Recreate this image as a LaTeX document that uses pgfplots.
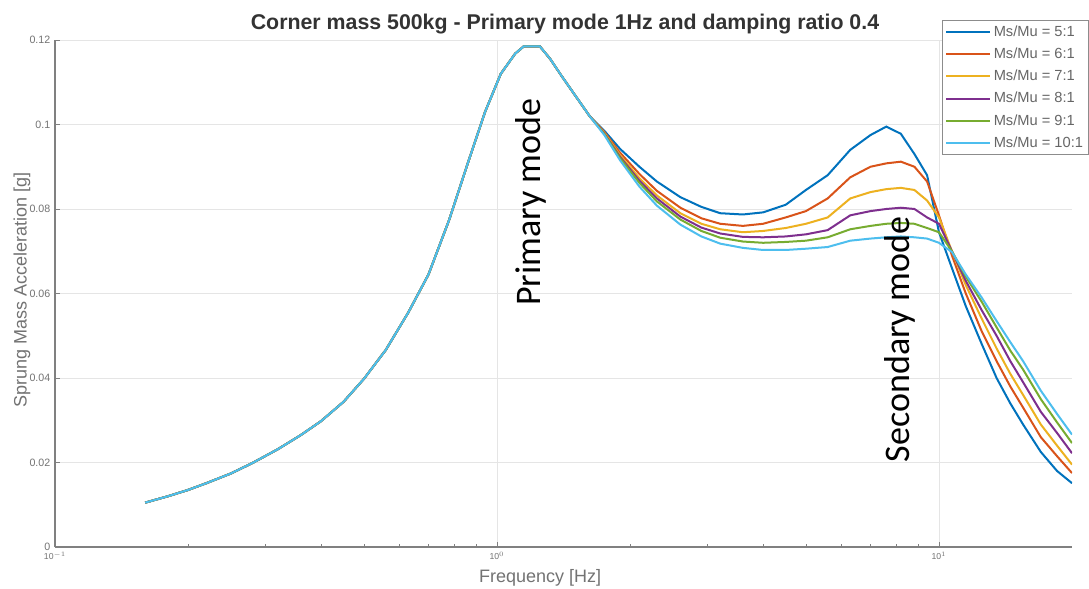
\documentclass[border=0pt]{standalone}
\usepackage{fontspec}
\setmainfont{Liberation Sans}
\newfontfamily\annot{Carlito}
\usepackage{pgfplots}
\usepackage{pgfplotstable}
\pgfplotsset{compat=1.18}
\definecolor{c1}{rgb}{0,0.447,0.741}
\definecolor{c2}{rgb}{0.85,0.325,0.098}
\definecolor{c3}{rgb}{0.929,0.694,0.125}
\definecolor{c4}{rgb}{0.494,0.184,0.556}
\definecolor{c5}{rgb}{0.466,0.674,0.188}
\definecolor{c6}{rgb}{0.301,0.745,0.933}
\pgfplotstableread{
f s5 s6 s7 s8 s9 s10
0.16 0.0105 0.0105 0.0105 0.0105 0.0105 0.0105
0.18 0.0120 0.0120 0.0120 0.0120 0.0120 0.0120
0.20 0.0135 0.0135 0.0135 0.0135 0.0135 0.0135
0.22 0.0151 0.0151 0.0151 0.0151 0.0151 0.0151
0.25 0.0174 0.0174 0.0174 0.0174 0.0174 0.0174
0.28 0.0199 0.0199 0.0199 0.0199 0.0199 0.0199
0.32 0.0232 0.0232 0.0232 0.0232 0.0232 0.0232
0.36 0.0265 0.0265 0.0265 0.0265 0.0265 0.0265
0.40 0.0298 0.0298 0.0298 0.0298 0.0298 0.0298
0.45 0.0344 0.0344 0.0344 0.0344 0.0344 0.0344
0.50 0.0398 0.0398 0.0398 0.0398 0.0398 0.0398
0.56 0.0466 0.0466 0.0466 0.0466 0.0466 0.0466
0.63 0.0555 0.0555 0.0555 0.0555 0.0555 0.0555
0.70 0.0645 0.0645 0.0645 0.0645 0.0645 0.0645
0.78 0.0775 0.0775 0.0775 0.0775 0.0775 0.0775
0.86 0.0910 0.0910 0.0910 0.0910 0.0910 0.0910
0.94 0.1030 0.1030 0.1030 0.1030 0.1030 0.1030
1.02 0.1120 0.1120 0.1120 0.1120 0.1120 0.1120
1.10 0.1168 0.1168 0.1168 0.1168 0.1168 0.1168
1.15 0.1185 0.1185 0.1185 0.1185 0.1185 0.1185
1.25 0.1185 0.1185 0.1185 0.1185 0.1185 0.1185
1.32 0.1155 0.1155 0.1155 0.1155 0.1155 0.1155
1.40 0.1115 0.1115 0.1115 0.1115 0.1115 0.1115
1.50 0.1070 0.1070 0.1070 0.1070 0.1070 0.1070
1.62 0.1020 0.1020 0.1020 0.1020 0.1020 0.1020
1.75 0.0985 0.0982 0.0980 0.0978 0.0977 0.0975
1.90 0.0942 0.0933 0.0927 0.0923 0.0920 0.0915
2.10 0.0900 0.0883 0.0873 0.0867 0.0862 0.0853
2.30 0.0865 0.0843 0.0832 0.0825 0.0818 0.0808
2.60 0.0828 0.0803 0.0790 0.0782 0.0775 0.0763
2.90 0.0805 0.0778 0.0765 0.0756 0.0748 0.0735
3.20 0.0790 0.0765 0.0752 0.0742 0.0732 0.0718
3.60 0.0787 0.0760 0.0745 0.0734 0.0723 0.0708
4.00 0.0792 0.0765 0.0748 0.0733 0.0720 0.0703
4.50 0.0810 0.0780 0.0755 0.0735 0.0722 0.0703
5.00 0.0845 0.0795 0.0765 0.0740 0.0725 0.0706
5.60 0.0880 0.0825 0.0780 0.0750 0.0733 0.0710
6.30 0.0940 0.0875 0.0825 0.0785 0.0752 0.0725
7.00 0.0975 0.0900 0.0840 0.0795 0.0760 0.0730
7.60 0.0995 0.0908 0.0847 0.0800 0.0765 0.0733
8.20 0.0978 0.0912 0.0850 0.0803 0.0767 0.0735
8.80 0.0930 0.0900 0.0845 0.0800 0.0765 0.0733
9.40 0.0880 0.0865 0.0820 0.0780 0.0755 0.0730
10.0 0.0745 0.0785 0.0780 0.0765 0.0745 0.0720
10.7 0.0660 0.0690 0.0700 0.0700 0.0700 0.0698
11.5 0.0570 0.0600 0.0620 0.0630 0.0640 0.0645
12.5 0.0480 0.0510 0.0540 0.0560 0.0580 0.0590
13.5 0.0400 0.0440 0.0470 0.0500 0.0520 0.0535
14.5 0.0340 0.0380 0.0410 0.0440 0.0465 0.0485
15.5 0.0290 0.0330 0.0360 0.0390 0.0420 0.0440
17.0 0.0225 0.0260 0.0290 0.0320 0.0350 0.0370
18.5 0.0180 0.0215 0.0240 0.0270 0.0295 0.0315
20.0 0.0151 0.0175 0.0195 0.0222 0.0246 0.0266
}\data
\begin{document}
\begin{tikzpicture}
\useasboundingbox[fill=white] (0,0) rectangle (816.75pt,441.75pt);
\begin{axis}[
  at={(41.25pt,31.5pt)}, anchor=south west,
  scale only axis, width=762.75pt, height=380.25pt,
  xmode=log, xmin=0.1, xmax=20, ymin=0, ymax=0.12,
  axis x line*=bottom, axis y line*=left,
  axis line style={black!50, line width=0.8pt},
  tick align=inside,
  major tick length=4pt, minor tick length=2.5pt,
  tick style={black!50, line width=0.6pt},
  grid=major, major grid style={black!10, line width=0.5pt},
  ytick={0,0.02,0.04,0.06,0.08,0.1,0.12},
  yticklabels={0,0.02,0.04,0.06,0.08,0.1,0.12},
  xtick={0.1,1,10},
  xticklabels={10$^{-1}$,10$^{0}$,10$^{1}$},
  minor xtick={0.2,0.3,0.4,0.5,0.6,0.7,0.8,0.9,2,3,4,5,6,7,8,9},
  y tick label style={font=\fontsize{8}{9.6}\selectfont, text=black!55},
  x tick label style={font=\fontsize{6.5}{8}\selectfont, text=black!55},
  title={Corner mass 500kg - Primary mode 1Hz and damping ratio 0.4},
  title style={at={(axis description cs:0.5015,1.0158)}, anchor=center, font=\bfseries\fontsize{16}{19}\selectfont, text=black!80},
  xlabel={Frequency [Hz]},
  xlabel style={at={(axis description cs:0.477,-0.0612)}, anchor=center, font=\fontsize{13.5}{16}\selectfont, text=black!55},
  ylabel={Sprung Mass Acceleration [g]},
  ylabel style={at={(axis description cs:-0.0324,0.507)}, anchor=center, font=\fontsize{13.5}{16}\selectfont, text=black!55},
  legend style={at={(axis description cs:0.8722,1.0394)}, anchor=north west, draw=black!45, fill=white, font=\fontsize{11}{13}\selectfont, text=black!60, inner sep=2pt, row sep=3.2pt, cells={anchor=west}},
  legend image code/.code={\draw[#1, line width=1.6pt] (0pt,0pt) -- (33pt,0pt);},
  every axis plot/.append style={line width=1.5pt},
]
\addplot[c1] table[x=f,y=s5] {\data};
\addplot[c2] table[x=f,y=s6] {\data};
\addplot[c3] table[x=f,y=s7] {\data};
\addplot[c4] table[x=f,y=s8] {\data};
\addplot[c5] table[x=f,y=s9] {\data};
\addplot[c6] table[x=f,y=s10] {\data};
\legend{Ms/Mu = 5:1, Ms/Mu = 6:1, Ms/Mu = 7:1, Ms/Mu = 8:1, Ms/Mu = 9:1, Ms/Mu = 10:1}
\node[rotate=90, font=\annot\fontsize{27}{31}\selectfont] at (axis cs:1.194,0.0816) {Primary mode};
\node[rotate=90, font=\annot\fontsize{27}{31}\selectfont] at (axis cs:8.16,0.0491) {Secondary mode};
\end{axis}
\end{tikzpicture}
\end{document}
